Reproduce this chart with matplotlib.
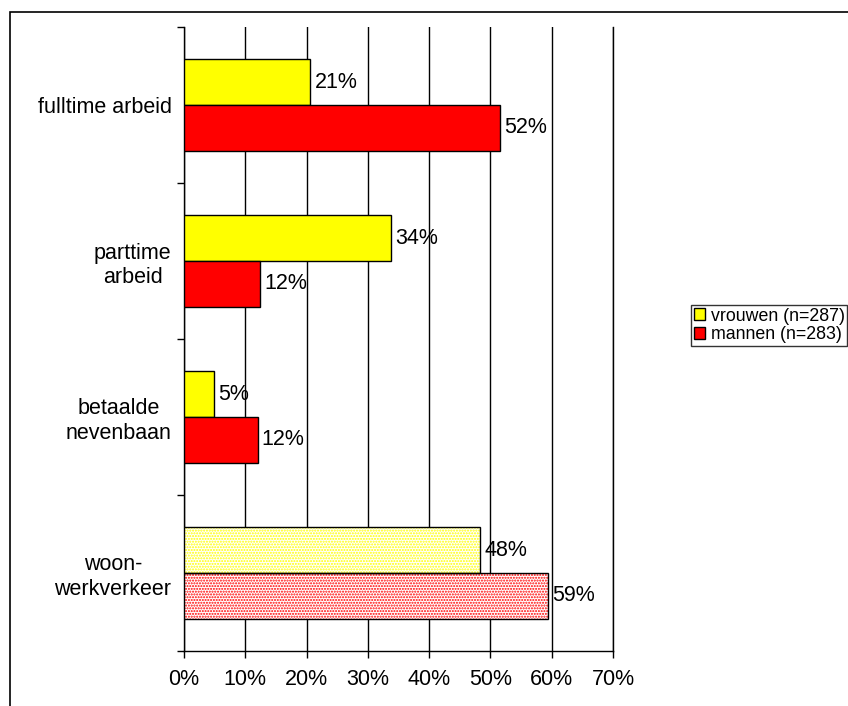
import matplotlib.pyplot as plt
import numpy as np
from matplotlib.patches import Rectangle, Patch

plt.rcParams["font.family"] = ["Liberation Sans", "DejaVu Sans"]

# data
categories = ["fulltime arbeid", "parttime\narbeid", "betaalde\nnevenbaan", "woon-\nwerkverkeer"]
vrouwen = [20.6, 33.8, 4.9, 48.3]
mannen = [51.6, 12.4, 12.0, 59.4]
vrouwen_labels = ["21%", "34%", "5%", "48%"]
mannen_labels = ["52%", "12%", "12%", "59%"]
hatched = [False, False, False, True]
series_names = ["vrouwen (n=287)", "mannen (n=283)"]
colors = ["#FFFF00", "#FF0000"]

fs = 15.5

fig = plt.figure(figsize=(8.48, 7.06), dpi=100)
ax = fig.add_axes([184 / 848, 1 - 651 / 706, (613 - 184) / 848, (651 - 27) / 706])

# outer chart frame
fig.patches.append(Rectangle((10 / 848, -0.05), 1.0, 1 - 12 / 706 + 0.05,
                             transform=fig.transFigure, fill=False,
                             edgecolor="black", linewidth=1.2))

y = np.arange(len(categories))
h = 0.292

for i in range(len(categories)):
    for j, (vals, labs) in enumerate([(vrouwen, vrouwen_labels), (mannen, mannen_labels)]):
        yc = y[i] - h / 2 if j == 0 else y[i] + h / 2
        if hatched[i]:
            ax.barh(yc, vals[i], height=h, color="white", edgecolor=colors[j],
                    hatch="......", linewidth=0, zorder=3)
            ax.barh(yc, vals[i], height=h, fill=False, edgecolor="black",
                    linewidth=1, zorder=4)
        else:
            ax.barh(yc, vals[i], height=h, color=colors[j], edgecolor="black",
                    linewidth=1, zorder=3)
        ax.annotate(labs[i], (vals[i], yc), xytext=(3, 0), textcoords="offset points",
                    ha="left", va="center", fontsize=fs, zorder=5)

ax.set_xlim(0, 70)
ax.set_ylim(3.5, -0.5)
ax.set_xticks(np.arange(0, 71, 10))
ax.set_xticklabels([f"{v}%" for v in range(0, 71, 10)], fontsize=fs)
ax.xaxis.grid(True, color="black", linewidth=1, zorder=0)
ax.set_axisbelow(True)

ax.set_yticks(y)
ax.set_yticklabels(categories, fontsize=fs, multialignment="center")
ax.set_yticks(np.arange(-0.5, 4, 1), minor=True)
ax.tick_params(axis="y", which="major", length=0, pad=9)
ax.tick_params(axis="y", which="minor", length=5, width=1, direction="out")
ax.tick_params(axis="x", length=5, width=1, direction="out", pad=8)

ax.spines["top"].set_visible(False)
for s in ["left", "bottom", "right"]:
    ax.spines[s].set_linewidth(1)
    ax.spines[s].set_color("black")

handles = [Patch(facecolor=colors[0], edgecolor="black"),
           Patch(facecolor=colors[1], edgecolor="black")]
leg = fig.legend(handles, series_names, loc="upper left",
                 bbox_to_anchor=(691 / 848, 1 - 305 / 706), fontsize=12.8,
                 frameon=True, fancybox=False, handlelength=0.65, handleheight=0.65,
                 handletextpad=0.3, borderpad=0.15, labelspacing=0.08,
                 borderaxespad=0)
leg.get_frame().set_edgecolor("black")
leg.get_frame().set_linewidth(1)

fig.savefig("out.png", dpi=100)
